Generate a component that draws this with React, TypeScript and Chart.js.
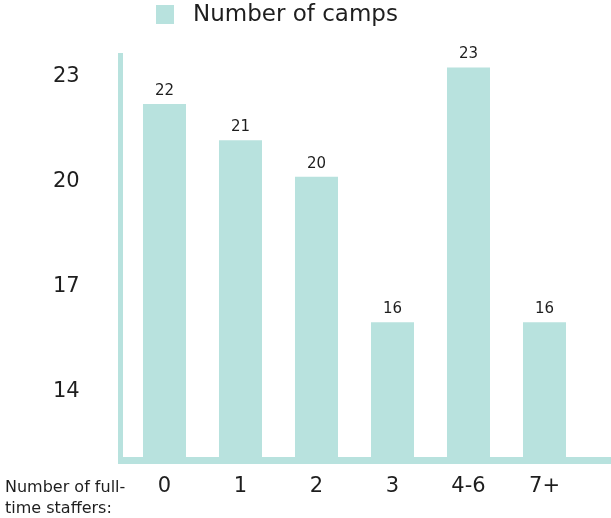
import { useEffect, useRef } from 'react';
import { Chart, registerables } from 'chart.js';
Chart.register(...registerables);

const categories = ['0', '1', '2', '3', '4-6', '7+'];
const campCounts = [22, 21, 20, 16, 23, 16];
const yTickLabels = [14, 17, 20, 23];
const seriesName = 'Number of camps';
const xAxisCaption = ['Number of full-', 'time staffers:'];

const FONT = '"DejaVu Sans", sans-serif';
const TEAL = 'rgb(184,226,222)';
const INK = '#1e1e1e';

export default function App() {
  const ref = useRef<HTMLCanvasElement>(null);
  useEffect(() => {
    document.body.style.margin = '0';
    const decor = {
      id: 'decor',
      afterDatasetsDraw(chart: any) {
        const { ctx, chartArea } = chart;
        ctx.save();
        // axis lines
        ctx.fillStyle = TEAL;
        const axL = chartArea.left - 8.5;
        ctx.fillRect(axL, chartArea.top, 5, chartArea.bottom + 7 - chartArea.top);
        ctx.fillRect(axL, chartArea.bottom, chart.width - axL, 7);
        // value labels
        ctx.fillStyle = INK;
        ctx.font = `15px ${FONT}`;
        ctx.textAlign = 'center';
        ctx.textBaseline = 'middle';
        const ds = chart.data.datasets[0];
        chart.getDatasetMeta(0).data.forEach((bar: any, i: number) => {
          ctx.fillText(String(ds.data[i]), bar.x, bar.y - 13);
        });
        // x axis caption
        ctx.textAlign = 'left';
        ctx.font = `16px ${FONT}`;
        ctx.fillText(xAxisCaption[0], 5, chartArea.bottom + 31);
        ctx.fillText(xAxisCaption[1], 5, chartArea.bottom + 52);
        // legend
        ctx.fillStyle = ds.backgroundColor;
        ctx.fillRect(156, 5, 18, 19);
        ctx.fillStyle = INK;
        ctx.font = `23px ${FONT}`;
        ctx.fillText(ds.label, 193, 15);
        ctx.restore();
      },
    };
    const chart = new Chart(ref.current!, {
      type: 'bar',
      data: {
        labels: categories,
        datasets: [
          {
            label: seriesName,
            data: campCounts,
            backgroundColor: TEAL,
            barPercentage: 0.566,
            categoryPercentage: 1,
            yAxisID: 'y',
          },
        ],
      },
      options: {
        animation: false,
        responsive: false,
        events: [],
        layout: { padding: { left: 53, right: 28.5, top: 53, bottom: 0 } },
        plugins: { legend: { display: false }, tooltip: { enabled: false } },
        scales: {
          x: {
            grid: { display: false, drawTicks: false },
            border: { display: false },
            ticks: {
              padding: 17,
              maxRotation: 0,
              autoSkip: false,
              color: INK,
              font: { family: FONT, size: 21 },
            },
            afterFit: (s: any) => {
              s.height = 61;
            },
          },
          y: {
            display: false,
            min: 12.3,
            max: 23.4,
          },
          yLabels: {
            position: 'left',
            min: 12.13,
            max: 23.68,
            grid: { display: false, drawTicks: false },
            border: { display: false },
            afterBuildTicks: (s: any) => {
              s.ticks = yTickLabels.map((v) => ({ value: v }));
            },
            ticks: {
              crossAlign: 'far',
              color: INK,
              font: { family: FONT, size: 21 },
            },
            afterFit: (s: any) => {
              s.width = 73.5;
            },
          },
        },
      },
      plugins: [decor],
    } as any);
    return () => chart.destroy();
  }, []);
  return <canvas ref={ref} width={611} height={518} style={{ display: 'block' }} />;
}
